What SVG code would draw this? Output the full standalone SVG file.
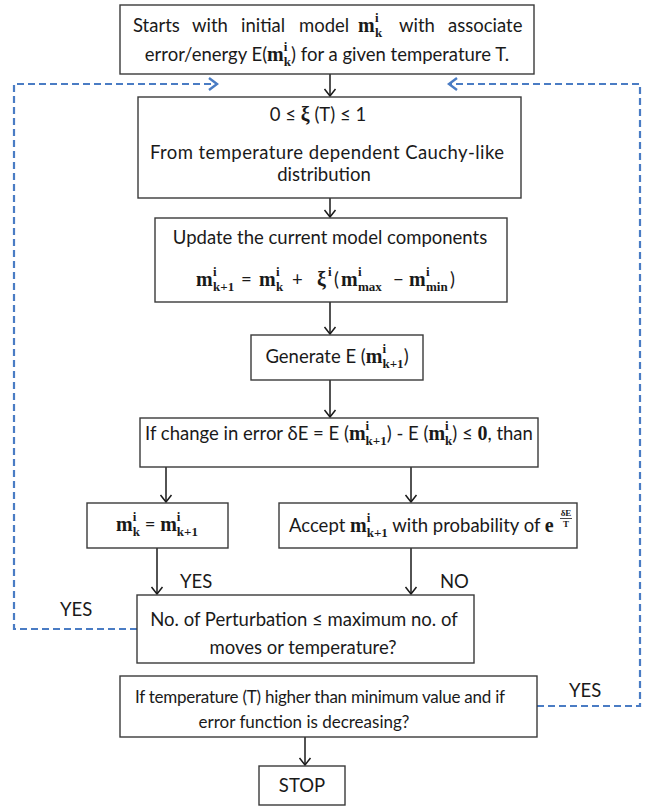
<svg xmlns="http://www.w3.org/2000/svg" width="666" height="809" viewBox="0 0 666 809">
<defs>
<style>
.box{fill:#fff;stroke:#3a3a3a;stroke-width:1.4}
.t{font-family:Lato,"Open Sans","Liberation Sans",sans-serif;font-size:18.5px;fill:#1a1a1a}
.sm{font-size:17px}
.m{font-family:"Liberation Serif","DejaVu Serif",serif;font-weight:bold;font-size:20px}
.s{font-size:13px}
.f{font-size:9px}
.c{text-anchor:middle}
.ln{fill:none;stroke:#1a1a1a;stroke-width:1.5}
.dash{fill:none;stroke:#4a7cc4;stroke-width:2.2;stroke-dasharray:7,4}
</style>
<marker id="ah" markerUnits="userSpaceOnUse" markerWidth="12" markerHeight="14" refX="8" refY="7" orient="auto">
<path d="M1,1.5 L8,7 L1,12.5" fill="none" stroke="#1a1a1a" stroke-width="1.5"/>
</marker>
<marker id="bh" markerUnits="userSpaceOnUse" markerWidth="14" markerHeight="16" refX="9" refY="8" orient="auto">
<path d="M1,2 L9,8 L1,14" fill="none" stroke="#4a7cc4" stroke-width="2.4"/>
</marker>
</defs>

<g id="connectors">
<line class="ln" x1="330" y1="74" x2="330" y2="96" marker-end="url(#ah)"/>
<line class="ln" x1="330" y1="198" x2="330" y2="217" marker-end="url(#ah)"/>
<line class="ln" x1="330" y1="302" x2="330" y2="334" marker-end="url(#ah)"/>
<line class="ln" x1="330" y1="380" x2="330" y2="417" marker-end="url(#ah)"/>
<line class="ln" x1="166" y1="467" x2="166" y2="502" marker-end="url(#ah)"/>
<line class="ln" x1="411" y1="467" x2="411" y2="502" marker-end="url(#ah)"/>
<line class="ln" x1="157" y1="548" x2="157" y2="594" marker-end="url(#ah)"/>
<line class="ln" x1="411" y1="548" x2="411" y2="594" marker-end="url(#ah)"/>
<line class="ln" x1="305" y1="737" x2="305" y2="765" marker-end="url(#ah)"/>
<path class="dash" d="M137,629 H14 V84 H217" marker-end="url(#bh)"/>
<path class="dash" d="M537,706 H640 V84 H449" marker-end="url(#bh)"/>
<text class="t" x="60" y="616">YES</text>
<text class="t" x="180" y="588">YES</text>
<text class="t" x="440" y="588">NO</text>
<text class="t" x="569" y="697">YES</text>
</g>

<g id="start">
<rect class="box" x="120" y="5" width="414" height="69"/>
<text class="t" y="32"><tspan x="133">Starts</tspan><tspan x="192">with</tspan><tspan x="241">initial</tspan><tspan x="299">model</tspan><tspan class="m" x="358">m</tspan><tspan class="m s" x="375" y="22">i</tspan><tspan class="m s" x="375" y="37">k</tspan><tspan x="399" y="32">with</tspan><tspan x="448">associate</tspan></text>
<text class="t c" x="327" y="61">error/energy E(<tspan class="m">m</tspan><tspan class="m s" dy="-10">i</tspan><tspan class="m s" dx="-3.6" dy="15">k</tspan><tspan dy="-5">) for a given temperature T.</tspan></text>
</g>

<g id="xi">
<rect class="box" x="138" y="97" width="383" height="101"/>
<text class="t c" x="318" y="121">0 ≤ <tspan class="m">ξ</tspan> (T) ≤ 1</text>
<text class="t c" x="327" y="159" textLength="354">From temperature dependent Cauchy-like</text>
<text class="t c" x="324" y="181">distribution</text>
</g>

<g id="update">
<rect class="box" x="155" y="218" width="352" height="84"/>
<text class="t c" x="330" y="244">Update the current model components</text>
<text class="t"><tspan class="m" x="196" y="286">m</tspan><tspan class="m s" x="213" y="276">i</tspan><tspan class="m s" x="213" y="291">k+1</tspan><tspan x="241" y="286">=</tspan><tspan class="m" x="259" y="286">m</tspan><tspan class="m s" x="276" y="276">i</tspan><tspan class="m s" x="276" y="291">k</tspan><tspan x="292" y="286">+</tspan><tspan class="m" x="317" y="286">ξ</tspan><tspan class="m s" x="328" y="276">i</tspan><tspan x="334" y="286">(</tspan><tspan class="m" x="341" y="286">m</tspan><tspan class="m s" x="358" y="276">i</tspan><tspan class="m s" x="358" y="291">max</tspan><tspan x="393" y="286">−</tspan><tspan class="m" x="409" y="286">m</tspan><tspan class="m s" x="426" y="276">i</tspan><tspan class="m s" x="426" y="291">min</tspan><tspan x="450" y="286">)</tspan></text>
</g>

<g id="generate">
<rect class="box" x="251" y="335" width="172" height="45"/>
<text class="t c" x="337" y="363">Generate E (<tspan class="m">m</tspan><tspan class="m s" dy="-10">i</tspan><tspan class="m s" dx="-3.6" dy="15">k+1</tspan><tspan dy="-5">)</tspan></text>
</g>

<g id="check">
<rect class="box" x="140" y="418" width="398" height="49"/>
<text class="t c" x="339" y="440">If change in error δE = E (<tspan class="m">m</tspan><tspan class="m s" dy="-10">i</tspan><tspan class="m s" dx="-3.6" dy="15">k+1</tspan><tspan dy="-5">) - E (</tspan><tspan class="m">m</tspan><tspan class="m s" dy="-10">i</tspan><tspan class="m s" dx="-3.6" dy="15">k</tspan><tspan dy="-5">) ≤ </tspan><tspan class="m">0</tspan>, than</text>
</g>

<g id="accept-yes">
<rect class="box" x="87" y="503" width="141" height="45"/>
<text class="t c" x="157" y="531"><tspan class="m">m</tspan><tspan class="m s" dy="-10">i</tspan><tspan class="m s" dx="-3.6" dy="15">k</tspan><tspan dy="-5"> =  </tspan><tspan class="m">m</tspan><tspan class="m s" dy="-10">i</tspan><tspan class="m s" dx="-3.6" dy="15">k+1</tspan></text>
</g>

<g id="accept-no">
<rect class="box" x="279" y="503" width="298" height="45"/>
<text class="t" x="289" y="532">Accept <tspan class="m">m</tspan><tspan class="m s" dy="-10">i</tspan><tspan class="m s" dx="-3.6" dy="15">k+1</tspan><tspan dy="-5"> with probability of </tspan><tspan class="m">e</tspan></text>
<text class="m f c" x="566" y="516" fill="#1a1a1a">δE</text>
<line x1="560" y1="518.5" x2="572" y2="518.5" stroke="#1a1a1a" stroke-width="0.8"/>
<text class="m f c" x="566" y="527" fill="#1a1a1a">T</text>
</g>

<g id="perturb">
<rect class="box" x="137" y="595" width="337" height="68"/>
<text class="t c" x="304" y="626">No. of Perturbation ≤ maximum no. of</text>
<text class="t c" x="303" y="654">moves or temperature?</text>
</g>

<g id="temp">
<rect class="box" x="120" y="676" width="417" height="61"/>
<text class="t sm c" x="320" y="703" textLength="370">If temperature (T)  higher than minimum value and if</text>
<text class="t sm c" x="304" y="728">error function is decreasing?</text>
</g>

<g id="stop">
<rect class="box" x="259" y="766" width="86" height="39"/>
<text class="t c" x="302" y="792">STOP</text>
</g>
</svg>
